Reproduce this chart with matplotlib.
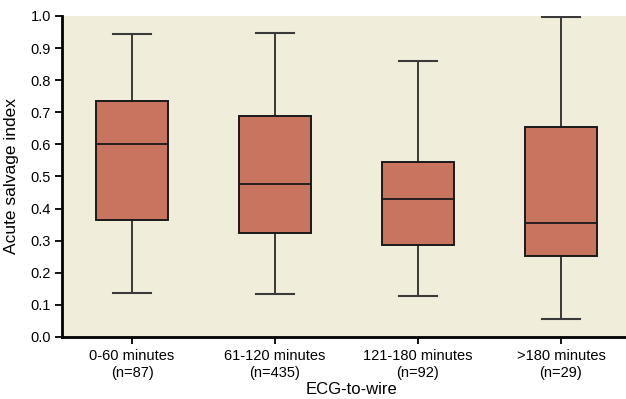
import matplotlib
matplotlib.use("Agg")
import matplotlib.pyplot as plt

groups = ["0-60 minutes\n(n=87)", "61-120 minutes\n(n=435)",
          "121-180 minutes\n(n=92)", ">180 minutes\n(n=29)"]
whisker_lo = [0.137, 0.133, 0.128, 0.055]
q1 = [0.364, 0.325, 0.287, 0.253]
median = [0.602, 0.478, 0.430, 0.354]
q3 = [0.735, 0.689, 0.545, 0.655]
whisker_hi = [0.944, 0.947, 0.860, 0.997]

bg = "#f0edda"
box_color = "#c8745e"
plt.rcParams["font.family"] = ["Liberation Sans", "DejaVu Sans"]

stats = []
for i in range(len(groups)):
    stats.append({
        "label": groups[i],
        "whislo": whisker_lo[i],
        "q1": q1[i],
        "med": median[i],
        "q3": q3[i],
        "whishi": whisker_hi[i],
        "fliers": [],
    })

fig = plt.figure(figsize=(6.26, 3.99), dpi=100)
ax = fig.add_axes([0.099, 0.1554, 0.901, 0.8045])
ax.set_facecolor(bg)

ax.bxp(
    stats,
    positions=[1, 2, 3, 4],
    widths=0.5,
    capwidths=0.26,
    patch_artist=True,
    showfliers=False,
    boxprops=dict(facecolor=box_color, edgecolor="#1a1a1a", linewidth=1.4),
    medianprops=dict(color="#1a1a1a", linewidth=1.3),
    whiskerprops=dict(color="#1a1a1a", linewidth=1.2),
    capprops=dict(color="#3a3a3a", linewidth=1.5),
)

ax.set_xlim(0.51, 4.455)
ax.set_ylim(0, 1.0)
ax.set_yticks([i / 10 for i in range(11)])
ax.set_yticklabels([f"{i / 10:.1f}" for i in range(11)], fontsize=10.5)
ax.set_xticklabels(groups, fontsize=10.5, linespacing=1.2)

for side in ["top", "right"]:
    ax.spines[side].set_visible(False)
for side in ["left", "bottom"]:
    ax.spines[side].set_linewidth(2)
ax.tick_params(axis="y", direction="out", length=5, width=1.3, pad=3)
ax.tick_params(axis="x", direction="out", length=5, width=1.3, pad=4)

ax.set_ylabel("Acute salvage index", fontsize=12.5, labelpad=8)
fig.text(0.562, 0.004, "ECG-to-wire", ha="center", va="bottom", fontsize=12)

fig.savefig("out.png", dpi=100)
